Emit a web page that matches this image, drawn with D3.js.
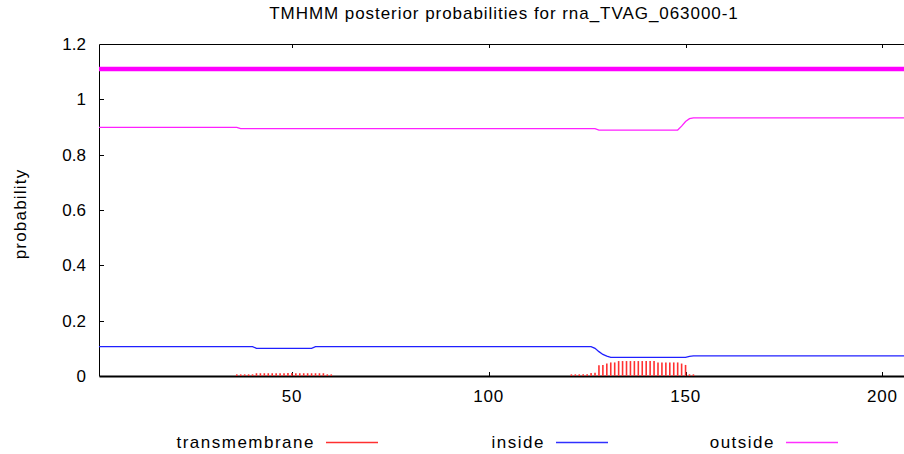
<!DOCTYPE html>
<html>
<head>
<meta charset="utf-8">
<script src="https://cdn.jsdelivr.net/npm/d3@7"></script>
<style>
  html, body { margin: 0; padding: 0; background: #fff; }
  text { font-family: "Liberation Sans", Arial, sans-serif; fill: #000; }
</style>
</head>
<body>
<div id="chart"></div>
<script>
const WIDTH = 904;
const HEIGHT = 454;
const LEFT = 99;
const TOP = 44;
const BOTTOM = 376;
const RIGHT = 906;

// data
const title = 'TMHMM posterior probabilities for rna_TVAG_063000-1';
const xTicks = [50, 100, 150, 200];
const yTicks = [0, 0.2, 0.4, 0.6, 0.8, 1, 1.2];
const seqLength = 206;

// transmembrane posterior, one impulse per residue
const tmPos = [36, 37, 38, 39, 40, 41, 42, 43, 44, 45, 46, 47, 48, 49, 50, 51, 52, 53, 54, 55, 56, 57, 58, 59, 60,
  121, 122, 123, 124, 125, 126, 127, 128, 129, 130, 131, 132, 133, 134, 135, 136, 137, 138, 139, 140,
  141, 142, 143, 144, 145, 146, 147, 148, 149, 150, 151, 152];
const tmVal = [0.006, 0.006, 0.006, 0.006, 0.006, 0.01, 0.01, 0.01, 0.01, 0.01, 0.01, 0.01, 0.01, 0.011, 0.011,
  0.01, 0.01, 0.01, 0.01, 0.01, 0.01, 0.01, 0.01, 0.006, 0.006,
  0.006, 0.006, 0.006, 0.006, 0.006, 0.011, 0.012, 0.039, 0.040, 0.045, 0.049, 0.049, 0.054, 0.054, 0.054,
  0.054, 0.054, 0.054, 0.054, 0.054, 0.054, 0.054, 0.049, 0.049, 0.049, 0.049, 0.049, 0.049, 0.045, 0.040,
  0.006, 0.006];

// inside posterior (vertices of the curve)
const insidePos = [1, 40, 41, 55, 56, 126, 127, 128, 129, 130, 131, 150, 151, 152, 206];
const insideVal = [0.106, 0.106, 0.100, 0.100, 0.106, 0.106, 0.100, 0.088, 0.078, 0.072, 0.067, 0.067, 0.071, 0.073, 0.073];

// outside posterior (vertices of the curve)
const outsidePos = [1, 36, 37, 127, 128, 148, 149, 150, 151, 152, 206];
const outsideVal = [0.899, 0.899, 0.894, 0.894, 0.889, 0.889, 0.903, 0.920, 0.930, 0.933, 0.933];

// predicted topology line (outside for the whole sequence)
const topoStart = [1];
const topoEnd = [206];
const topoLevel = 1.11;

const legendLabels = ['transmembrane', 'inside', 'outside'];
const legendColors = ['#ff3030', '#3030ff', '#ff30ff'];

let svg;

const x = d3.scaleLinear().domain([1, seqLength]).range([LEFT, RIGHT]);
const y = d3.scaleLinear().domain([0, 1.2]).range([BOTTOM, TOP]);

function buildFrame() {
  let axisGroup = svg.append('g').attr('class', 'axisGroup');

  axisGroup.selectAll('line.border')
    .data([
      { x1: LEFT, y1: TOP, x2: LEFT, y2: BOTTOM, w: 1 },
      { x1: LEFT, y1: TOP, x2: RIGHT, y2: TOP, w: 1 },
      { x1: LEFT, y1: BOTTOM, x2: RIGHT, y2: BOTTOM, w: 2 }
    ])
    .enter()
    .append('line')
    .attr('class', 'border')
    .attr('x1', (d) => d.x1 + 0.5)
    .attr('y1', (d) => d.y1 + 0.5)
    .attr('x2', (d) => d.x2 + 0.5)
    .attr('y2', (d) => d.y2 + 0.5)
    .attr('stroke', '#000')
    .attr('stroke-width', (d) => d.w)

  // y ticks, pointing inward
  axisGroup.selectAll('line.ytick')
    .data(yTicks.slice(1, -1))
    .enter()
    .append('line')
    .attr('class', 'ytick')
    .attr('x1', LEFT)
    .attr('x2', LEFT + 5)
    .attr('y1', (d) => Math.round(y(d)) + 0.5)
    .attr('y2', (d) => Math.round(y(d)) + 0.5)
    .attr('stroke', '#000')

  axisGroup.selectAll('text.ylabel')
    .data(yTicks)
    .enter()
    .append('text')
    .attr('class', 'ylabel')
    .attr('x', 86)
    .attr('y', (d) => y(d))
    .attr('dy', '0.36em')
    .attr('text-anchor', 'end')
    .attr('font-size', 17)
    .text((d) => d)

  // x ticks, bottom and mirrored at the top
  axisGroup.selectAll('line.xtick')
    .data(xTicks)
    .enter()
    .append('line')
    .attr('class', 'xtick')
    .attr('x1', (d) => Math.round(x(d)) + 0.5)
    .attr('x2', (d) => Math.round(x(d)) + 0.5)
    .attr('y1', BOTTOM)
    .attr('y2', BOTTOM - 4)
    .attr('stroke', '#000')

  axisGroup.selectAll('line.xtick2')
    .data(xTicks)
    .enter()
    .append('line')
    .attr('class', 'xtick2')
    .attr('x1', (d) => Math.round(x(d)) + 0.5)
    .attr('x2', (d) => Math.round(x(d)) + 0.5)
    .attr('y1', TOP)
    .attr('y2', TOP + 4)
    .attr('stroke', '#000')

  axisGroup.selectAll('text.xlabel')
    .data(xTicks)
    .enter()
    .append('text')
    .attr('class', 'xlabel')
    .attr('x', (d) => x(d))
    .attr('y', 402)
    .attr('text-anchor', 'middle')
    .attr('font-size', 17)
    .attr('letter-spacing', 0.8)
    .text((d) => d)

  svg.append('text')
    .attr('x', 504)
    .attr('y', 19)
    .attr('text-anchor', 'middle')
    .attr('font-size', 17)
    .attr('letter-spacing', 0.95)
    .text(title)

  svg.append('text')
    .attr('transform', 'translate(26,214) rotate(-90)')
    .attr('text-anchor', 'middle')
    .attr('font-size', 17)
    .attr('letter-spacing', 1.2)
    .text('probability')
}

function buildSeries() {
  let lineGroup = svg.append('g').attr('class', 'lineGroup');

  lineGroup.selectAll('line.tm')
    .data(tmPos.map((p, i) => ({ pos: p, val: tmVal[i] })))
    .enter()
    .append('line')
    .attr('class', 'tm')
    .attr('x1', (d) => x(d.pos))
    .attr('x2', (d) => x(d.pos))
    .attr('y1', y(0))
    .attr('y2', (d) => y(d.val))
    .attr('stroke', legendColors[0])
    .attr('stroke-width', 1.6)

  let line = d3.line()
    .x((d) => x(d.pos))
    .y((d) => y(d.val));

  lineGroup.append('path')
    .datum(insidePos.map((p, i) => ({ pos: p, val: insideVal[i] })))
    .attr('d', line)
    .attr('fill', 'none')
    .attr('stroke', '#2020ff')
    .attr('stroke-width', 1.3)

  lineGroup.append('path')
    .datum(outsidePos.map((p, i) => ({ pos: p, val: outsideVal[i] })))
    .attr('d', line)
    .attr('fill', 'none')
    .attr('stroke', '#ff20ff')
    .attr('stroke-width', 1.3)

  lineGroup.selectAll('line.topo')
    .data(topoStart.map((s, i) => ({ s: s, e: topoEnd[i] })))
    .enter()
    .append('line')
    .attr('class', 'topo')
    .attr('x1', (d) => x(d.s))
    .attr('x2', (d) => x(d.e))
    .attr('y1', y(topoLevel))
    .attr('y2', y(topoLevel))
    .attr('stroke', '#ff00ff')
    .attr('stroke-width', 4.5)
}

function buildLegend() {
  let metaGroup = svg.append('g').attr('class', 'metaGroup');
  let items = metaGroup.selectAll('g')
    .data(legendLabels)
    .enter()
    .append('g')
    .attr('transform', (d, i) => 'translate(' + (326 + i * 230) + ',442)')

  items.append('text')
    .attr('x', -11)
    .attr('dy', '0.35em')
    .attr('text-anchor', 'end')
    .attr('font-size', 17)
    .attr('letter-spacing', 1.5)
    .text((d) => d)

  items.append('line')
    .attr('x1', 0)
    .attr('x2', 52)
    .attr('y1', 0.5)
    .attr('y2', 0.5)
    .attr('stroke', (d, i) => legendColors[i])
    .attr('stroke-width', 1.5)
}

svg = d3.select('#chart').append('svg')
  .attr('width', WIDTH)
  .attr('height', HEIGHT)

buildFrame();
buildSeries();
buildLegend();
</script>
</body>
</html>
